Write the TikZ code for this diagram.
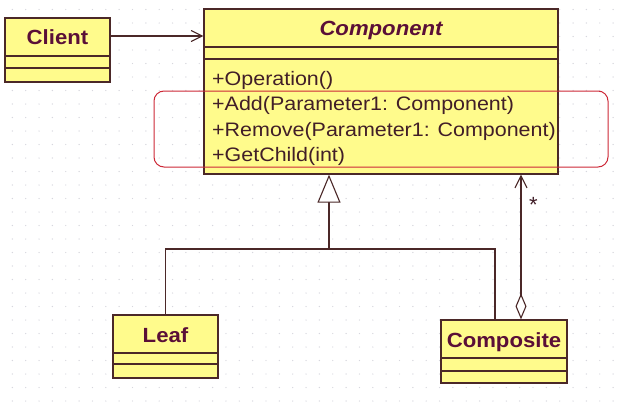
\documentclass[tikz,border=0pt]{standalone}
\usepackage{fontspec}
\setmainfont{Liberation Sans}
\newfontfamily\namefont[FakeStretch=1.08]{Liberation Sans}
\newfontfamily\memberfont[FakeStretch=1.1]{Liberation Sans}
\usetikzlibrary{calc,arrows.meta,positioning}

\definecolor{umlfill}{RGB}{255,251,140}
\definecolor{umlline}{RGB}{75,40,40}
\definecolor{umlname}{RGB}{90,15,55}
\definecolor{umltext}{RGB}{65,30,40}
\definecolor{markred}{RGB}{205,40,55}
\definecolor{griddot}{RGB}{215,215,222}

\tikzset{
  classbox/.style={draw=umlline, fill=umlfill, line width=1.3pt, inner sep=0pt},
  classline/.style={draw=umlline, line width=1.3pt},
  classname/.style={font=\namefont\fontsize{20.5}{20.5}\selectfont\bfseries, text=umlname, anchor=base, inner sep=0pt},
  member/.style={font=\memberfont\fontsize{19.5}{19.5}\selectfont, text=umltext, anchor=base west, inner sep=0pt},
  connector/.style={draw=umlline, line width=1.1pt},
  assoc/.style={connector, -{Straight Barb[length=11pt,width=11pt]}},
  gen/.style={connector, -{Triangle[open,length=28pt,width=23pt,fill=white]}},
  aggr/.style={connector, {Diamond[open,length=26pt,width=11pt,fill=white]}-{Straight Barb[length=12pt,width=12pt]}},
  markbox/.style={draw=markred, line width=1pt, rounded corners=10pt}
}

\begin{document}
\begin{tikzpicture}[x=1pt,y=-1pt]

    % background with dotted grid
    \fill[white] (0,0) rectangle (622,402);
    \useasboundingbox (0,0) rectangle (622,402);
    \foreach \i in {0,...,46}
      \foreach \j in {0,...,29}
        \fill[griddot] ({-1+13.35*\i},{9.5+13.5*\j}) circle (0.7);

    % classes
    \node[classbox, minimum width=105pt, minimum height=64pt] (client) at (57.5,50) {};
    \node[classbox, minimum width=354pt, minimum height=165pt] (component) at (381,91.5) {};
    \node[classbox, minimum width=105pt, minimum height=63pt] (leaf) at (165.5,346.5) {};
    \node[classbox, minimum width=126pt, minimum height=63pt] (composite) at (504,351.5) {};

    \draw[classline] (client.west |- 0,56) -- (client.east |- 0,56);
    \draw[classline] (client.west |- 0,68) -- (client.east |- 0,68);
    \draw[classline] (component.west |- 0,47) -- (component.east |- 0,47);
    \draw[classline] (component.west |- 0,59) -- (component.east |- 0,59);
    \draw[classline] (leaf.west |- 0,353) -- (leaf.east |- 0,353);
    \draw[classline] (leaf.west |- 0,364) -- (leaf.east |- 0,364);
    \draw[classline] (composite.west |- 0,358) -- (composite.east |- 0,358);
    \draw[classline] (composite.west |- 0,371) -- (composite.east |- 0,371);

    \node[classname] (clientName) at (57.5,44) {Client};
    \node[classname] (componentName) at (381,35) {\itshape Component};
    \node[classname] (leafName) at (165.5,342) {Leaf};
    \node[classname] (compositeName) at (504,347) {Composite};

    \node[member] (opOperation) at (212,85) {+Operation()};
    \node[member] (opAdd) at (212,110.5) {+Add(Parameter1: Component)};
    \node[member] (opRemove) at (212,136) {+Remove(Parameter1: Component)};
    \node[member] (opGetChild) at (212,161) {+GetChild(int)};

    % highlighted operations
    \draw[markbox] (154,91) rectangle (608,167);

    % connectors
    \draw[assoc] (client.east |- 0,36) -- (component.west |- 0,36);

    \coordinate (genJoin) at (329,249);
    \coordinate (compJoin) at (495,249);
    \draw[gen] (genJoin) -- (genJoin |- component.south);
    \draw[connector] (leaf.north) |- (genJoin) -- (compJoin) -- (compJoin |- composite.north);

    \coordinate (aggX) at (521,0);
    \draw[aggr] (composite.north -| aggX) -- (component.south -| aggX);
    \node[font=\fontsize{22}{22}\selectfont, text=umltext, anchor=base, inner sep=0pt] (many) at (533.5,212) {*};

\end{tikzpicture}
\end{document}
